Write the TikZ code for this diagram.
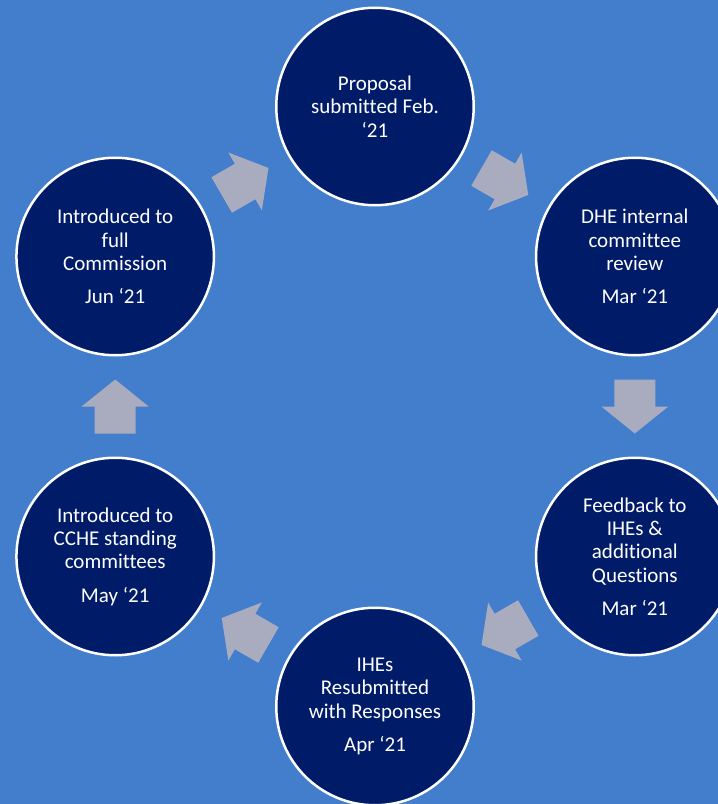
\documentclass[tikz,border=0pt]{standalone}
\usepackage{fontspec}
\setmainfont{Carlito}[Ligatures=NoCommon]
\usetikzlibrary{calc}
\begin{document}
\begin{tikzpicture}[x=1pt,y=1pt]
	\definecolor{nen}{RGB}{66,126,204}
	\definecolor{xanh}{RGB}{0,27,104}
	\definecolor{xam}{RGB}{169,171,190}
	\tikzset{
		buoc/.style={circle,draw=white,line width=2.5pt,fill=xanh,minimum size=197.5pt,inner sep=0pt,text=white,align=center,font=\fontsize{21}{23.3}\selectfont},
		muiten/.pic={
			\fill[xam] (-27,-20.5) -- (0,-20.5) -- (0,-33.5) -- (27,0) -- (0,33.5) -- (0,20.5) -- (-27,20.5) -- cycle;
		}
	}
	%Nen
	\useasboundingbox (-375,-397.5) rectangle (343,406.5);
	\clip (-375,-397.5) rectangle (343,406.5);
	\fill[nen] (-375,-397.5) rectangle (343,406.5);
	
	%Cac buoc
	\node[buoc] (b1) at (90:300) {Proposal\\submitted Feb.\\‘21};
	\node[buoc] (b2) at (30:300) {DHE internal\\committee\\review\\[10pt]Mar ‘21};
	\node[buoc] (b3) at (-30:300) {Feedback to\\IHEs \&\\additional\\Questions\\[10pt]Mar ‘21};
	\node[buoc] (b4) at (-90:300) {IHEs\\Resubmitted\\with Responses\\[10pt]Apr ‘21};
	\node[buoc] (b5) at (-150:300) {Introduced to\\CCHE standing\\committees\\[10pt]May ‘21};
	\node[buoc] (b6) at (150:300) {Introduced to\\full\\Commission\\[10pt]Jun ‘21};
	
	%Mui ten
	\foreach \a/\b/\goc in {
		b1/b2/-30,
		b2/b3/-90,
		b3/b4/-150,
		b4/b5/150,
		b5/b6/90,
		b6/b1/30
	}{
		\path ($(\a)!.5!(\b)$) pic[rotate=\goc] {muiten};
	}
\end{tikzpicture}
\end{document}
